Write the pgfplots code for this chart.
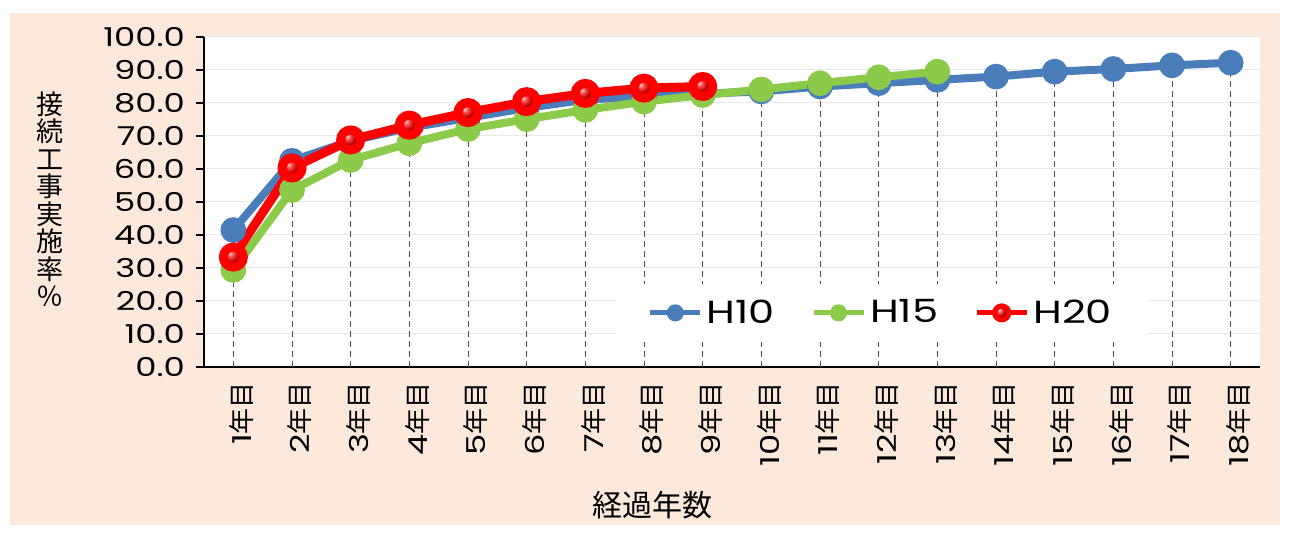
\documentclass[border=0pt]{standalone}
\usepackage{fontspec}
\setmainfont{Noto Sans CJK JP}
\newfontfamily\numfont[FakeStretch=1.3]{Poppins}
\usepackage{pgfplots}
\pgfplotsset{compat=1.18}
\definecolor{bg}{HTML}{FDE9DB}
\definecolor{cblue}{HTML}{4A7EBB}
\definecolor{cgreen}{HTML}{8CCB4A}
\definecolor{cred}{HTML}{FF0000}
\pgfplotstableread{
x y
1 41.5
2 62.5
3 68.5
4 72.5
5 75.5
6 78.5
7 81.0
8 82.0
9 82.8
10 83.5
11 85.0
12 86.0
13 87.0
14 88.0
15 89.5
16 90.3
17 91.4
18 92.2
}\Hten
\pgfplotstableread{
x y
1 29.4
2 53.6
3 62.7
4 67.8
5 72.1
6 75.1
7 77.9
8 80.4
9 82.4
10 84.1
11 86.0
12 87.8
13 89.5
}\Hfifteen
\pgfplotstableread{
x y
1 33.3
2 60.3
3 68.8
4 73.3
5 77.1
6 80.4
7 82.9
8 84.5
9 85.0
}\Htwenty
\begin{document}
\begin{tikzpicture}[x=1pt,y=1pt]
\fill[white] (0,0) rectangle (645.5,267);
\fill[bg] (5,4.5) rectangle (640,260.5);
\begin{axis}[
  at={(102pt,83.5pt)}, anchor=south west,
  scale only axis, width=528pt, height=165pt,
  xmin=0.5, xmax=18.5, ymin=0, ymax=100,
  axis x line=bottom, axis y line=left,
  axis line style={-, line width=1.2pt, black},
  axis background/.style={fill=white},
  ytick={0,10,...,100}, ymajorgrids,
  grid style={gray!18, line width=0.5pt},
  yticklabel={\pgfmathprintnumber[fixed,fixed zerofill,precision=1,assume math mode=true]{\tick}},
  yticklabel style={font=\numfont\fontsize{13}{13}\selectfont, xshift=-2pt},
  ytick style={black, line width=0.8pt},
  tick align=outside, major tick length=4pt,
  xtick={1,...,18},
  xtick style={draw=none},
  xticklabels={{\numfont 1}年目,{\numfont 2}年目,{\numfont 3}年目,{\numfont 4}年目,{\numfont 5}年目,{\numfont 6}年目,{\numfont 7}年目,{\numfont 8}年目,{\numfont 9}年目,{\numfont 10}年目,{\numfont 11}年目,{\numfont 12}年目,{\numfont 13}年目,{\numfont 14}年目,{\numfont 15}年目,{\numfont 16}年目,{\numfont 17}年目,{\numfont 18}年目},
  xticklabel style={rotate=90, anchor=east, font=\fontsize{13}{13}\selectfont, yshift=-4pt},
  legend style={at={(0.642,0.164)}, anchor=center, draw=none, fill=white,
    font=\numfont\fontsize{16}{16}\selectfont, inner xsep=16pt, inner ysep=6pt,
    /tikz/every even column/.append style={column sep=16pt}},
  legend columns=3,
  legend image code/.code={\draw[mark repeat=2,mark phase=2,#1] plot coordinates {(0pt,0pt) (12.5pt,0pt) (25pt,0pt)};},
  clip=false,
]
\addplot[ycomb, densely dashed, gray!60!black, line width=0.5pt, mark=none, forget plot] table[x=x,y=y] {\Hten};
\addplot[ycomb, densely dashed, gray!60!black, line width=0.5pt, mark=none, forget plot] table[x=x,y=y] {\Hfifteen};
\addplot[ycomb, densely dashed, gray!60!black, line width=0.5pt, mark=none, forget plot] table[x=x,y=y] {\Htwenty};
\addplot[cblue, line width=4pt, mark=*, mark size=4.4pt, mark options={solid, fill=cblue, draw=none}, legend image post style={line width=2.5pt, mark size=3pt}] table[x=x,y=y] {\Hten};
\addlegendentry{H10}
\addplot[cgreen, line width=4pt, mark=*, mark size=4.4pt, mark options={solid, fill=cgreen, draw=none}, legend image post style={line width=2.5pt, mark size=3pt}] table[x=x,y=y] {\Hfifteen};
\addlegendentry{H15}
\addplot[cred, line width=4.5pt, mark=ball, mark size=5pt, mark options={ball color=red}, legend image post style={line width=2.5pt, mark size=3.5pt}] table[x=x,y=y] {\Htwenty};
\addlegendentry{H20}
\end{axis}
\node[align=center, font=\fontsize{13.5}{13.75}\selectfont, inner sep=0pt] at (25,167.5) {接\\続\\工\\事\\実\\施\\率\\％};
\node[font=\fontsize{15}{15}\selectfont, inner sep=0pt] at (326,14.5) {経過年数};
\pgfresetboundingbox
\useasboundingbox (0,0) rectangle (645.5,267);
\end{tikzpicture}
\end{document}
